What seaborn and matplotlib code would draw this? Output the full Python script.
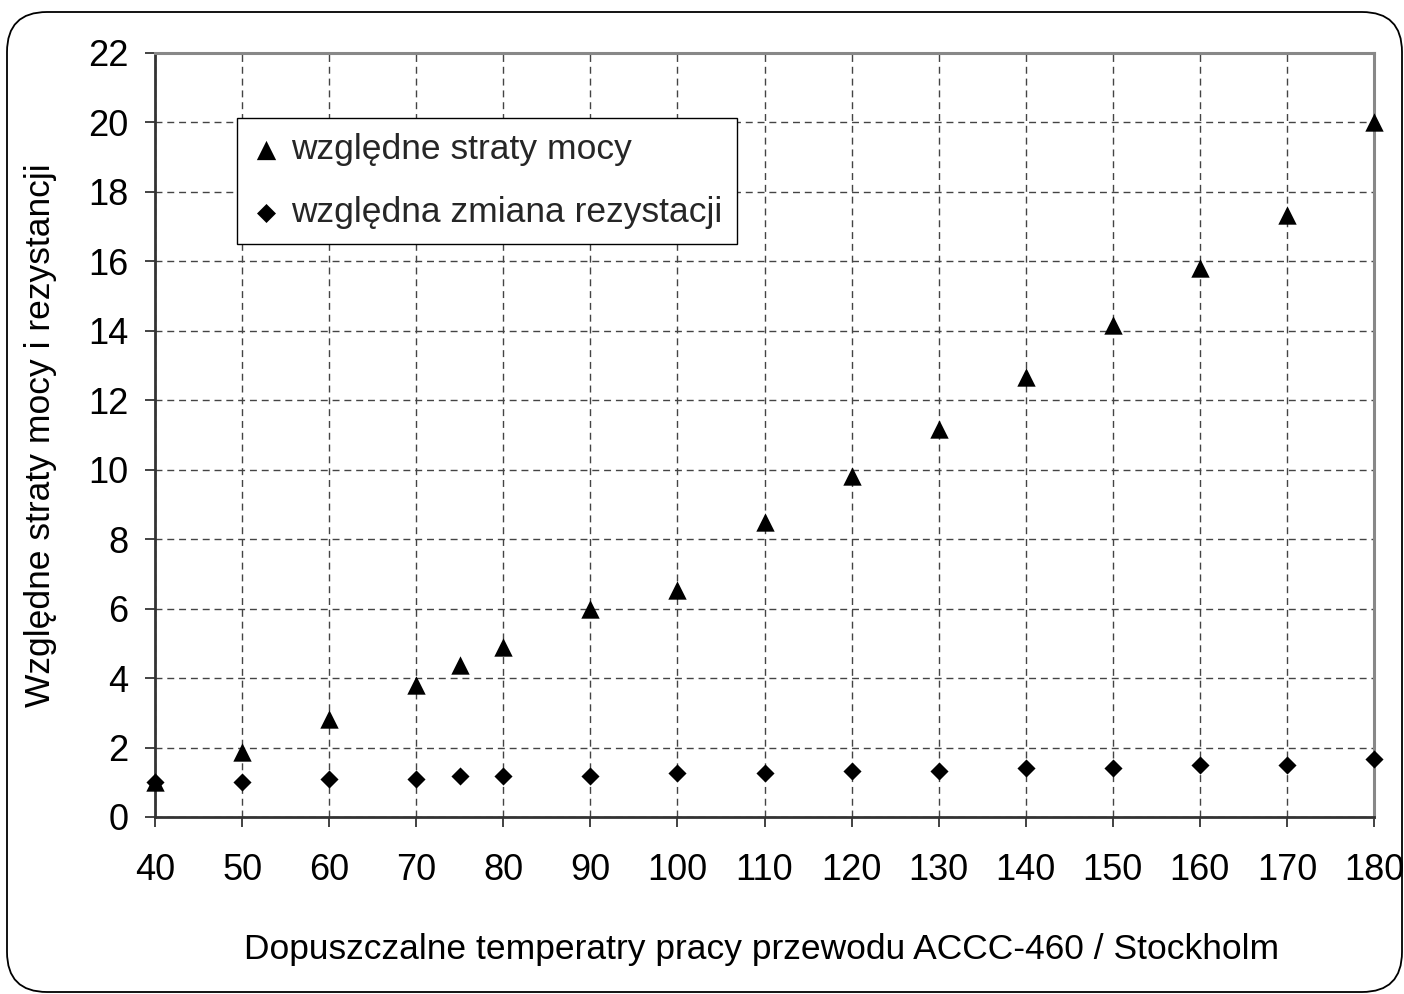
import matplotlib
matplotlib.use("Agg")
import matplotlib.pyplot as plt
from matplotlib.patches import FancyBboxPatch
from matplotlib.transforms import IdentityTransform
import seaborn as sns
import pandas as pd

# ---- data ----
temperatures = [40, 50, 60, 70, 75, 80, 90, 100, 110, 120, 130, 140, 150, 160, 170, 180]
power_losses = [1.0, 1.87, 2.81, 3.81, 4.37, 4.9, 5.98, 6.54, 8.49, 9.82, 11.17, 12.67, 14.17, 15.8, 17.33, 20.02]
resistance_change = [1.0, 1.0, 1.09, 1.09, 1.18, 1.18, 1.18, 1.26, 1.26, 1.33, 1.33, 1.41, 1.41, 1.49, 1.49, 1.66]
label_losses = "względne straty mocy"
label_resist = "względna zmiana rezystacji"
x_ticks = [40, 50, 60, 70, 80, 90, 100, 110, 120, 130, 140, 150, 160, 170, 180]
y_ticks = [0, 2, 4, 6, 8, 10, 12, 14, 16, 18, 20, 22]
x_label = "Dopuszczalne temperatry pracy przewodu ACCC-460 / Stockholm"
y_label = "Względne straty mocy i rezystancji"

df_losses = pd.DataFrame({"T": temperatures, "v": power_losses})
df_resist = pd.DataFrame({"T": temperatures, "v": resistance_change})

sns.set_theme(style="white")
plt.rcParams["font.family"] = ["Liberation Sans", "DejaVu Sans"]

W, H, DPI = 1404, 994, 100
fig = plt.figure(figsize=(W / DPI, H / DPI), dpi=DPI)
ax = fig.add_axes([155 / W, 1 - 817 / H, (1374 - 155) / W, (817 - 53) / H])

sns.scatterplot(data=df_losses, x="T", y="v", marker="^", s=175, color="black",
                edgecolor="black", linewidth=0, ax=ax, label=label_losses,
                clip_on=False, zorder=5)
sns.scatterplot(data=df_resist, x="T", y="v", marker="D", s=85, color="black",
                edgecolor="black", linewidth=0, ax=ax, label=label_resist,
                clip_on=False, zorder=5)

ax.set_xlim(40, 180)
ax.set_ylim(0, 22)
ax.set_xticks(x_ticks)
ax.set_yticks(y_ticks)
ax.set_xticklabels([str(t) for t in x_ticks])
ax.set_yticklabels([str(t) for t in y_ticks])

ax.grid(True, which="major", color="#444444", linestyle=(0, (5, 3.5)), linewidth=1.0)
ax.set_axisbelow(True)

ax.tick_params(axis="both", which="major", direction="out", length=7, width=1.2,
               color="#222222", labelsize=26, labelcolor="black",
               bottom=True, left=True)
ax.tick_params(axis="x", pad=19)
ax.tick_params(axis="y", pad=12)

for side in ["left", "bottom"]:
    ax.spines[side].set_color("#333333")
    ax.spines[side].set_linewidth(2.0)
for side in ["top", "right"]:
    ax.spines[side].set_color("#888888")
    ax.spines[side].set_linewidth(2.2)

ax.set_xlabel(x_label, fontsize=25.5, color="black")
ax.set_ylabel(y_label, fontsize=25.5, color="black")
ax.xaxis.set_label_coords((762 - 155) / 1219, (817 - 933) / 764)
ax.yaxis.set_label_coords((57 - 155) / 1219, 0.5)

leg = ax.legend(loc="upper left", bbox_to_anchor=((237 - 155) / 1219, (817 - 118) / 764),
                fontsize=25.5, frameon=True, fancybox=False, edgecolor="black",
                framealpha=1, handlelength=0.8, handletextpad=0.3,
                labelspacing=0.85, borderpad=0.42, markerscale=1.05,
                borderaxespad=0)
leg.get_frame().set_linewidth(1.0)

frame = FancyBboxPatch((7, 2), 1395, 980, boxstyle="round,pad=0,rounding_size=40",
                       transform=IdentityTransform(), facecolor="none",
                       edgecolor="black", linewidth=1.3)
fig.add_artist(frame)

fig.savefig("out.png", dpi=DPI, facecolor="white")
